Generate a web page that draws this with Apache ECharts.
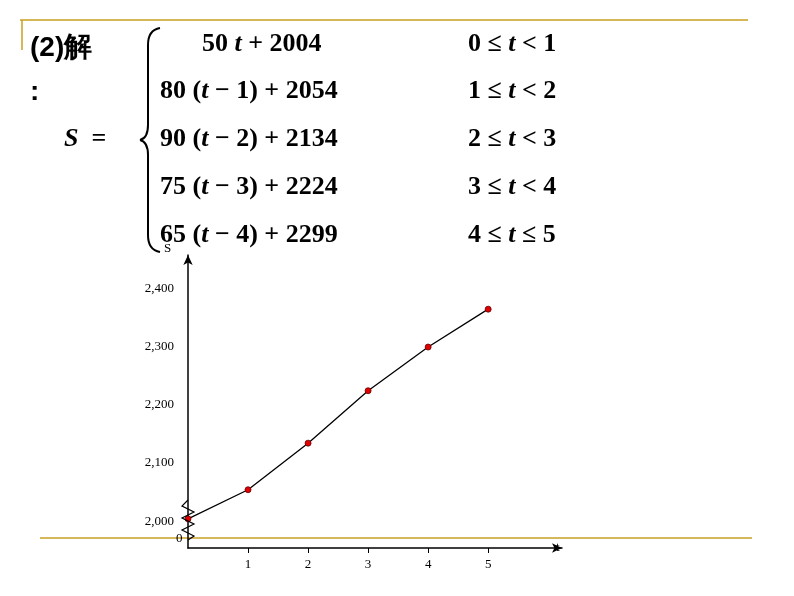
<!DOCTYPE html><html><head><meta charset="utf-8">
<script src="https://cdn.jsdelivr.net/npm/echarts@6/dist/echarts.min.js"></script>
<style>body{margin:0;background:#fff}#c{width:794px;height:596px}</style></head><body><div id="c"></div>
<script>
const tValues=[0,1,2,3,4,5];
const sValues=[2004,2054,2134,2224,2299,2364];
const yTicks=[2000,2100,2200,2300,2400];
const xTicks=[1,2,3,4,5];
const exprRows=['50 {i|t} + 2004','80 ({i|t} − 1) + 2054','90 ({i|t} − 2) + 2134','75 ({i|t} − 3) + 2224','65 ({i|t} − 4) + 2299'];
const exprX=[202,160,160,160,160];
const condRows=['0 ≤ {i|t} < 1','1 ≤ {i|t} < 2','2 ≤ {i|t} < 3','3 ≤ {i|t} < 4','4 ≤ {i|t} ≤ 5'];
const rowY=[45,92,140,188,236];
const ch=echarts.init(document.getElementById('c'));
const F='"Liberation Serif","DejaVu Serif",serif';
const rich={i:{fontStyle:'italic',fontWeight:'bold',fontSize:26,fontFamily:F,fill:'#000'}};
const bs={stroke:'#000',lineWidth:2,fill:null};
const g=[
 {type:'line',shape:{x1:20,y1:20,x2:748,y2:20},style:{stroke:'#c8a020',lineWidth:1.5}},
 {type:'line',shape:{x1:22,y1:20,x2:22,y2:50},style:{stroke:'#c8a020',lineWidth:1.5}},
 {type:'line',shape:{x1:40,y1:538,x2:752,y2:538},style:{stroke:'#c8a020',lineWidth:1.5},z:-1},
 {type:'text',x:30,y:34,style:{text:'(2)解',font:'bold 28px "Liberation Sans",sans-serif',fill:'#000'}},
 {type:'text',x:30,y:78,style:{text:':',font:'bold 28px "Liberation Sans",sans-serif',fill:'#000'}},
 {type:'text',x:64,y:126,style:{text:'{i|S}  =',font:'bold 26px '+F,rich,fill:'#000'}},
 {type:'bezierCurve',shape:{x1:160,y1:28,cpx1:148,cpy1:30,x2:148,y2:45},style:bs},
 {type:'line',shape:{x1:148,y1:45,x2:148,y2:125},style:bs},
 {type:'bezierCurve',shape:{x1:148,y1:125,cpx1:148,cpy1:138,x2:140,y2:140},style:bs},
 {type:'bezierCurve',shape:{x1:140,y1:140,cpx1:148,cpy1:142,x2:148,y2:155},style:bs},
 {type:'line',shape:{x1:148,y1:155,x2:148,y2:235},style:bs},
 {type:'bezierCurve',shape:{x1:148,y1:235,cpx1:148,cpy1:250,x2:160,y2:252},style:bs},
 {type:'polyline',shape:{points:[[188,500],[182,506],[194,512],[182,518],[194,524],[182,530],[194,536],[188,540]]},style:{stroke:'#000',lineWidth:1.2,fill:null},z:10},
 {type:'text',x:176,y:532,style:{text:'0',font:'13px '+F,fill:'#000'}},
 {type:'text',x:164,y:242,style:{text:'S',font:'13px '+F,fill:'#000'}},
];
exprRows.forEach((r,i)=>{g.push({type:'text',x:exprX[i],y:rowY[i]-14,style:{text:r,font:'bold 26px '+F,rich,fill:'#000'}});
 g.push({type:'text',x:468,y:rowY[i]-14,style:{text:condRows[i],font:'bold 26px '+F,rich,fill:'#000'}});});
ch.setOption({animation:false,
 grid:{left:188,top:255,width:374,height:293},
 xAxis:{type:'value',min:0,max:6.23,name:'t',nameLocation:'end',nameGap:-6,nameTextStyle:{fontFamily:F,fontSize:13,color:'#000',padding:[38,0,0,0]},
  axisLine:{symbol:['none','arrow'],symbolSize:[7,10],lineStyle:{color:'#000',width:1.5}},
  axisTick:{customValues:xTicks,length:5,inside:false,lineStyle:{color:'#000'}},
  axisLabel:{customValues:xTicks,fontFamily:F,fontSize:13,color:'#000',margin:10},splitLine:{show:false}},
 yAxis:{type:'value',min:1954,max:2457,
  axisLine:{show:true,symbol:['none','arrow'],symbolSize:[7,10],lineStyle:{color:'#000',width:1.5}},
  axisTick:{show:false},
  axisLabel:{customValues:yTicks,fontFamily:F,fontSize:13,color:'#000',margin:14},splitLine:{show:false}},
 series:[{type:'line',data:tValues.map((t,i)=>[t,sValues[i]]),symbol:'circle',symbolSize:6,
  itemStyle:{color:'#e00000',borderColor:'#600',borderWidth:0.8},lineStyle:{color:'#000',width:1.3}}],
 graphic:g});
</script></body></html>
